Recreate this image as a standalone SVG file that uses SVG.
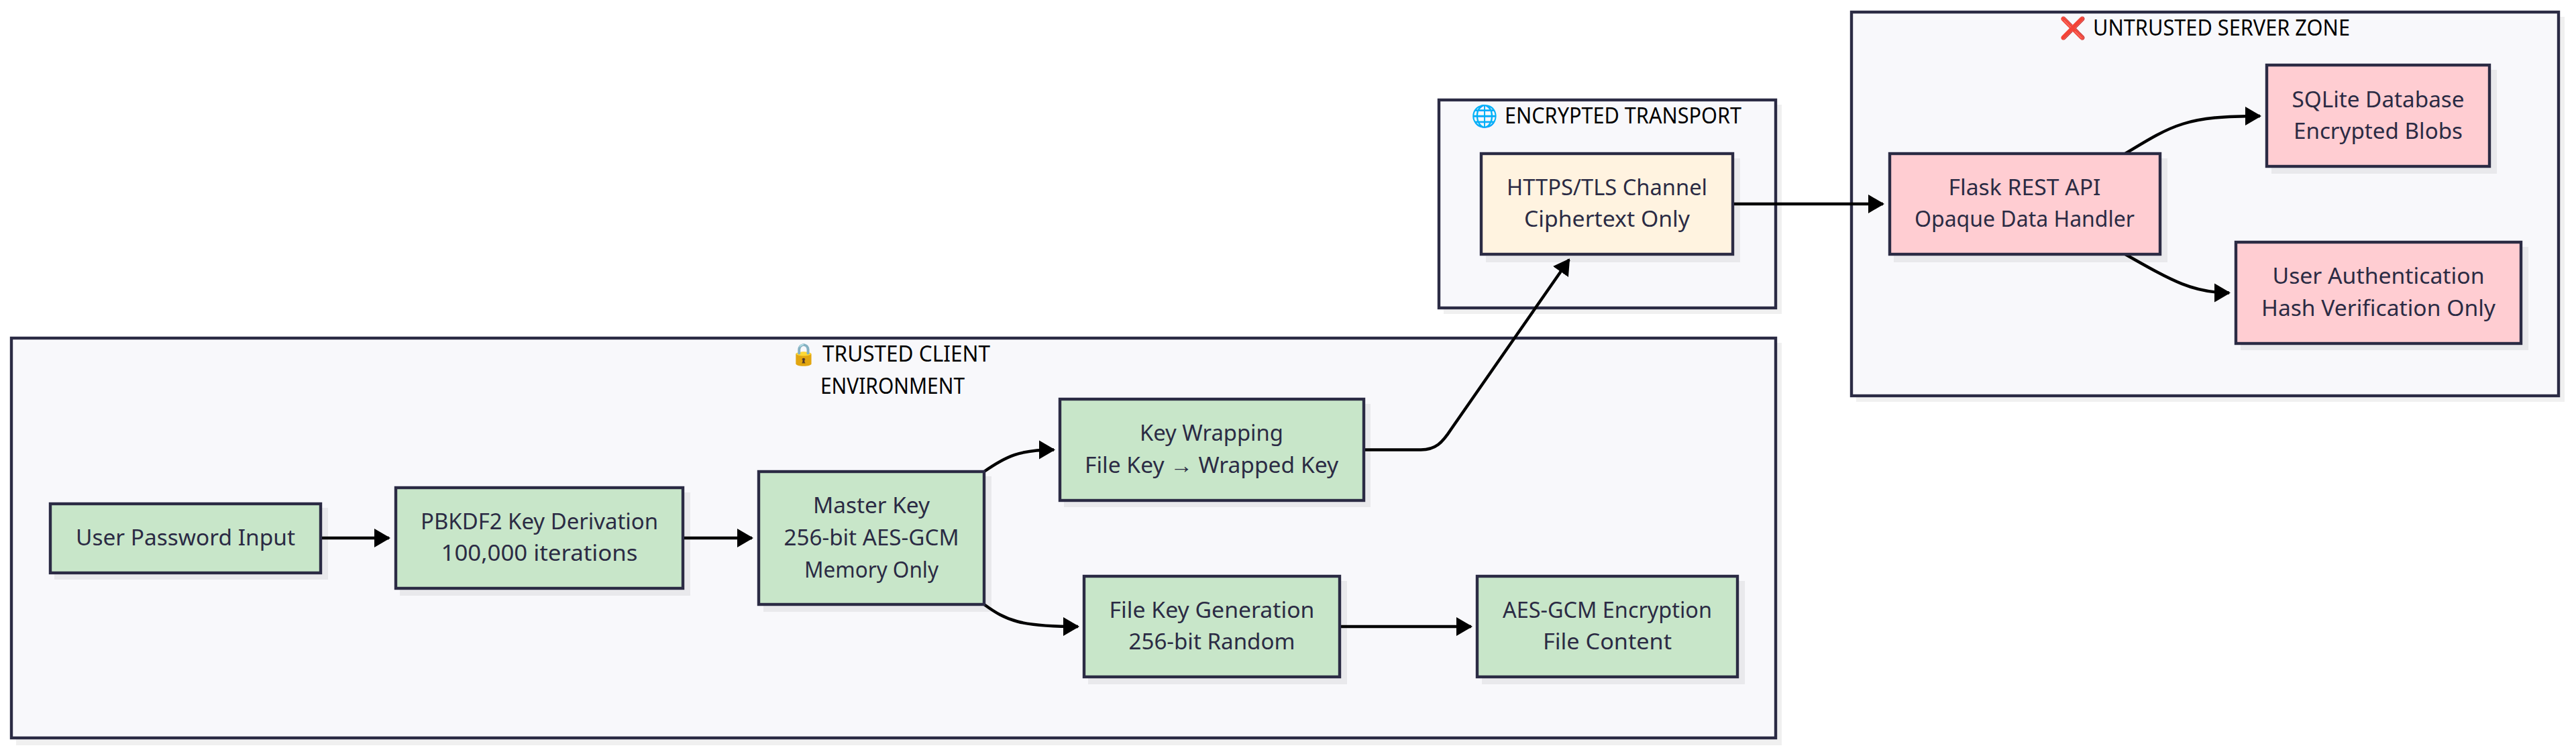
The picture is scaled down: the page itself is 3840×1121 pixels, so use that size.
<svg xmlns="http://www.w3.org/2000/svg" width="3840" height="1121" viewBox="0 0 3840 1121">
<style>
text{font-family:"Noto Sans","Liberation Sans",sans-serif;font-size:32px;text-anchor:middle}
.emoji{font-family:"Noto Color Emoji","Noto Sans",sans-serif;text-anchor:start}
.title{fill:#000;text-anchor:start}
.label{fill:#2b2b44}
.box{stroke:#2b2b44;stroke-width:4.400}
.shadow{fill:#000;opacity:.06}
.cluster{fill:#f8f8fb}
.green{fill:#c8e6c9}
.pink{fill:#ffcdd2}
.amber{fill:#fff3e0}
.edge{fill:none;stroke:#000;stroke-width:4.400;marker-end:url(#arrow)}
</style>
<defs>
<marker id="arrow" markerUnits="userSpaceOnUse" markerWidth="24" markerHeight="30" refX="22" refY="15" orient="auto" viewBox="0 0 24 30">
<path d="M0,1 L24,15 L0,29 Z" fill="#000"/>
</marker>
</defs>
<rect width="3840" height="1121" fill="#fff"/>

<g id="cluster-client">
<rect class="shadow" x="24" y="511" width="2632" height="600"/>
<rect class="box cluster" x="17" y="504" width="2630" height="596"/>
<text class="emoji" x="1178" y="539">🔒</text>
<text class="title" x="1226" y="539" textLength="250" lengthAdjust="spacingAndGlyphs">TRUSTED CLIENT</text>
<text class="title" x="1223" y="587" textLength="215" lengthAdjust="spacingAndGlyphs">ENVIRONMENT</text>
</g>
<g id="cluster-transport">
<rect class="shadow" x="2152" y="156" width="504" height="312"/>
<rect class="box cluster" x="2145" y="149" width="502" height="310"/>
<text class="emoji" x="2193" y="184">🌐</text>
<text class="title" x="2243" y="184" textLength="353" lengthAdjust="spacingAndGlyphs">ENCRYPTED TRANSPORT</text>
</g>
<g id="cluster-server">
<rect class="shadow" x="2767" y="25" width="1056" height="574"/>
<rect class="box cluster" x="2760" y="18" width="1054" height="572"/>
<text class="emoji" x="3070" y="53">❌</text>
<text class="title" x="3120" y="53" textLength="383" lengthAdjust="spacingAndGlyphs">UNTRUSTED SERVER ZONE</text>
</g>

<g id="connectors">
<path class="edge" d="M478,802 L580,802"/>
<path class="edge" d="M1018,802 L1121,802"/>
<path class="edge" d="M1467,703 C1500,680 1520,670.500 1571,670.500"/>
<path class="edge" d="M1467,901 C1500,925 1520,934 1607,934"/>
<path class="edge" d="M2033,670.500 L2118,670.500 C2140,670.500 2150,660 2163,640 L2339,387"/>
<path class="edge" d="M1997,934 L2193,934"/>
<path class="edge" d="M2585,304 L2807,304"/>
<path class="edge" d="M3168,229 C3240,185 3260,173 3369,173"/>
<path class="edge" d="M3168,379 C3240,420 3270,436.500 3323,436.500"/>
</g>

<g id="node-password">
<rect class="shadow" x="81" y="757" width="408" height="107"/>
<rect class="box green" x="75" y="751" width="403" height="103"/>
<text class="label" x="276.500" y="813" textLength="327" lengthAdjust="spacingAndGlyphs">User Password Input</text>
</g>
<g id="node-pbkdf2">
<rect class="shadow" x="596" y="734" width="433" height="154"/>
<rect class="box green" x="590" y="727" width="428" height="150"/>
<text class="label" x="804" y="789" textLength="354" lengthAdjust="spacingAndGlyphs">PBKDF2 Key Derivation</text>
<text class="label" x="804" y="836" textLength="293" lengthAdjust="spacingAndGlyphs">100,000 iterations</text>
</g>
<g id="node-master">
<rect class="shadow" x="1138" y="710" width="340" height="202"/>
<rect class="box green" x="1131" y="703" width="336" height="198"/>
<text class="label" x="1299" y="765" textLength="174" lengthAdjust="spacingAndGlyphs">Master Key</text>
<text class="label" x="1299" y="813" textLength="261" lengthAdjust="spacingAndGlyphs">256-bit AES-GCM</text>
<text class="label" x="1299" y="861" textLength="200" lengthAdjust="spacingAndGlyphs">Memory Only</text>
</g>
<g id="node-wrapping">
<rect class="shadow" x="1586" y="602" width="457" height="154"/>
<rect class="box green" x="1580" y="595" width="453" height="151"/>
<text class="label" x="1806" y="657" textLength="214" lengthAdjust="spacingAndGlyphs">Key Wrapping</text>
<text class="label" x="1806" y="705" textLength="378" lengthAdjust="spacingAndGlyphs">File Key → Wrapped Key</text>
</g>
<g id="node-filekey">
<rect class="shadow" x="1622" y="866" width="386" height="154"/>
<rect class="box green" x="1616" y="859" width="381" height="150"/>
<text class="label" x="1806.500" y="921" textLength="306" lengthAdjust="spacingAndGlyphs">File Key Generation</text>
<text class="label" x="1806.500" y="968" textLength="248" lengthAdjust="spacingAndGlyphs">256-bit Random</text>
</g>
<g id="node-aes">
<rect class="shadow" x="2209" y="866" width="392" height="154"/>
<rect class="box green" x="2202" y="859" width="388" height="150"/>
<text class="label" x="2396" y="921" textLength="312" lengthAdjust="spacingAndGlyphs">AES-GCM Encryption</text>
<text class="label" x="2396" y="968" textLength="192" lengthAdjust="spacingAndGlyphs">File Content</text>
</g>
<g id="node-https">
<rect class="shadow" x="2215" y="236" width="379" height="155"/>
<rect class="box amber" x="2208" y="229" width="375" height="150"/>
<text class="label" x="2395.500" y="291" textLength="299" lengthAdjust="spacingAndGlyphs">HTTPS/TLS Channel</text>
<text class="label" x="2395.500" y="338" textLength="247" lengthAdjust="spacingAndGlyphs">Ciphertext Only</text>
</g>
<g id="node-flask">
<rect class="shadow" x="2823" y="236" width="408" height="155"/>
<rect class="box pink" x="2817" y="229" width="403" height="150"/>
<text class="label" x="3018" y="291" textLength="227" lengthAdjust="spacingAndGlyphs">Flask REST API</text>
<text class="label" x="3018" y="338" textLength="328" lengthAdjust="spacingAndGlyphs">Opaque Data Handler</text>
</g>
<g id="node-sqlite">
<rect class="shadow" x="3386" y="104" width="336" height="155"/>
<rect class="box pink" x="3379" y="97" width="332" height="151"/>
<text class="label" x="3545" y="160" textLength="257" lengthAdjust="spacingAndGlyphs">SQLite Database</text>
<text class="label" x="3545" y="207" textLength="252" lengthAdjust="spacingAndGlyphs">Encrypted Blobs</text>
</g>
<g id="node-auth">
<rect class="shadow" x="3340" y="368" width="429" height="154"/>
<rect class="box pink" x="3333" y="361" width="425" height="151"/>
<text class="label" x="3545.500" y="423" textLength="316" lengthAdjust="spacingAndGlyphs">User Authentication</text>
<text class="label" x="3545.500" y="471" textLength="349" lengthAdjust="spacingAndGlyphs">Hash Verification Only</text>
</g>
</svg>
